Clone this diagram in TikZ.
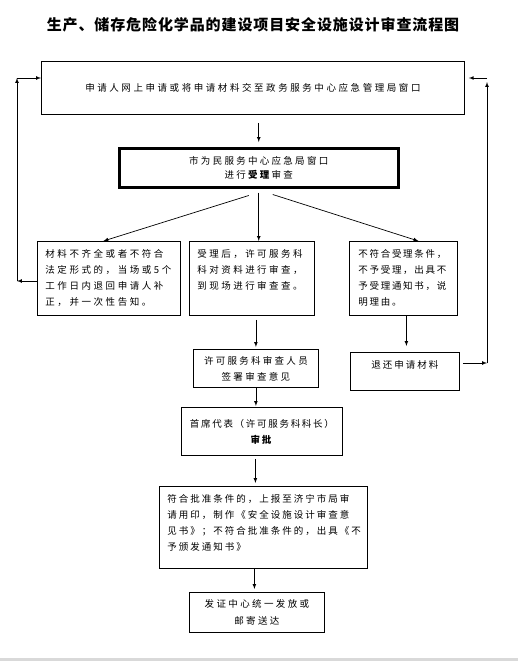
\documentclass[tikz,border=0pt]{standalone}
\usepackage{fontspec}
\setmainfont{Noto Sans CJK SC}
\usepackage{tikz}
\usetikzlibrary{arrows}
\newcommand\boxfont[2]{\fontsize{9.5}{#2}\selectfont\addfontfeatures{LetterSpace=#1}}

\begin{document}
\begin{tikzpicture}[x=1pt,y=-1pt]
		\tikzset{flowbox/.style={draw, line width=0.8pt, inner sep=0pt, anchor=north west},
			flowarrow/.style={-latex, line width=0.7pt}};
		\useasboundingbox (0,0) rectangle (518,661);
		\fill[black!15] (0,658) rectangle (518,661);
		\node[font={\fontsize{15}{18}\selectfont\bfseries\addfontfeatures{LetterSpace=6}}] (title) at (253,25) {生产、储存危险化学品的建设项目安全设施设计审查流程图};
		\node[flowbox, text width=423pt, align=center, text height=30.6pt, text depth=22.4pt, font=\boxfont{27}{16}] (apply) at (41,61) {申请人网上申请或将申请材料交至政务服务中心应急管理局窗口};
		\node[flowbox, line width=2.5pt, text width=279pt, align=center, text height=16.6pt, text depth=22.4pt, font=\boxfont{24}{14}] (accept) at (118,147) {市为民服务中心应急局窗口\\进行\textbf{受理}审查};
		\node[flowbox, inner xsep=8pt, text width=127pt, align=left, text height=15.6pt, text depth=58.4pt, font=\boxfont{27}{16}] (incomplete) at (37,241) {材料不齐全或者不符合\\法定形式的，当场或5个\\工作日内退回申请人补\\正，并一次性告知。};
		\node[flowbox, inner xsep=8pt, text width=109pt, align=left, text height=15.6pt, text depth=58.4pt, font=\boxfont{26}{16}] (review) at (189,241) {受理后，许可服务科\\科对资料进行审查，\\到现场进行审查查。};
		\node[flowbox, inner xsep=9pt, text width=90pt, align=left, text height=15.6pt, text depth=58.4pt, font=\boxfont{18}{16}] (reject) at (349,241) {不符合受理条件，\\不予受理，出具不\\予受理通知书，说\\明理由。};
		\node[flowbox, text width=125pt, align=center, text height=14.6pt, text depth=23.4pt, font=\boxfont{24}{16}] (sign) at (193,349) {许可服务科审查人员\\签署审查意见};
		\node[flowbox, text width=109pt, align=center, text height=15.6pt, text depth=22.4pt, font=\boxfont{21}{16}] (returnmat) at (350,352) {退还申请材料};
		\node[flowbox, text width=161pt, align=center, text height=19.6pt, text depth=28.4pt, font=\boxfont{18}{16}] (approve) at (181,407) {首席代表（许可服务科科长）\\\textbf{审批}};
		\node[flowbox, inner xsep=8pt, text width=192pt, align=left, text height=15.6pt, text depth=66.4pt, font=\boxfont{21}{16}] (decision) at (159,486) {符合批准条件的，上报至济宁市局审\\请用印，制作《安全设施设计审查意\\见书》；不符合批准条件的，出具《不\\予颁发通知书》};
		\node[flowbox, text width=135pt, align=center, text height=14.6pt, text depth=25.4pt, font=\boxfont{25}{17}] (issue) at (189,592) {发证中心统一发放或\\邮寄送达};
		\draw[flowarrow, shorten <=8pt, shorten >=5pt] (apply.south -| accept.north) -- (accept.north);
		\draw[flowarrow] ([xshift=-10pt,yshift=-7pt]accept.south) -- ([xshift=-5.5pt]incomplete.north);
		\draw[flowarrow, shorten <=4pt] (accept.south) -- (accept.south |- review.north);
		\draw[flowarrow] ([xshift=14pt,yshift=-6pt]accept.south) -- ([xshift=15pt]reject.north);
		\coordinate (lbot) at (17,281);
		\coordinate (ltop) at (17,78);
		\draw[flowarrow] (lbot -| incomplete.west) -- (lbot);
		\draw[flowarrow] (lbot) -- (ltop);
		\draw[flowarrow] (ltop) -- (ltop -| apply.west);
		\coordinate (rbot) at (487,363);
		\coordinate (rtop) at (487,78);
		\draw[flowarrow, shorten <=3pt] (rbot -| returnmat.east) -- (rbot);
		\draw[flowarrow, shorten >=4pt] (rbot) -- (rtop);
		\draw[flowarrow, shorten >=4pt] (rtop) -- (rtop -| apply.east);
		\draw[flowarrow, shorten <=4pt, shorten >=2pt] (review.south -| sign.north) -- (sign.north);
		\coordinate (rejectout) at ([xshift=3pt]reject.south);
		\draw[flowarrow, shorten >=6pt] (rejectout) -- (rejectout |- returnmat.north);
		\draw[flowarrow, shorten >=1pt] (sign.south) -- (sign.south |- approve.north);
		\coordinate (approveout) at ([xshift=-6.5pt]approve.south);
		\draw[flowarrow, shorten <=3pt, shorten >=3pt] (approveout) -- (approveout |- decision.north);
		\coordinate (issuein) at ([xshift=-2.5pt]issue.north);
		\draw[flowarrow, shorten >=3pt] (issuein |- decision.south) -- (issuein);
	\end{tikzpicture}
\end{document}
